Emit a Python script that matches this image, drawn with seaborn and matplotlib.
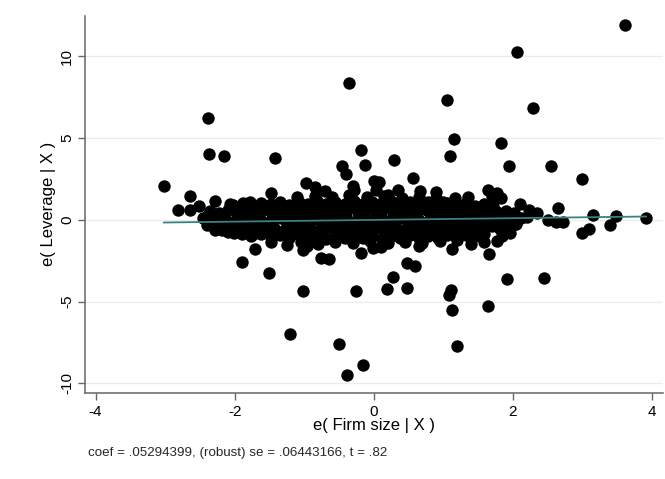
import matplotlib
matplotlib.use("Agg")
import matplotlib.pyplot as plt
import seaborn as sns
import pandas as pd

# added-variable plot: e(Leverage|X) vs e(Firm size|X)
coef = 0.05294399
note = "coef = .05294399, (robust) se = .06443166, t = .82"
x_label = "e( Firm size | X )"
y_label = "e( Leverage | X )"
x_ticks = [-4, -2, 0, 2, 4]
y_ticks = [-10, -5, 0, 5, 10]

# scattered points
outliers = [
    (3.62, 11.9), (2.06, 10.3), (-0.36, 8.37), (1.05, 7.32), (2.29, 6.87),
    (-2.38, 6.26), (1.15, 4.96), (1.83, 4.72), (-2.37, 4.02), (-2.15, 3.88),
    (-1.42, 3.77), (-0.18, 4.25), (1.09, 3.92), (0.29, 3.67), (-0.46, 3.28),
    (-0.40, 2.81), (-0.12, 3.34), (1.94, 3.30), (2.55, 3.28), (3.00, 2.52),
    (-3.02, 2.05), (0.56, 2.54), (2.65, 0.74), (3.15, 0.31), (3.49, 0.21),
    (3.92, 0.10), (3.10, -0.57), (2.99, -0.78), (3.40, -0.29), (2.50, 0.00),
    (2.62, -0.10), (2.72, -0.10), (-2.81, 0.62), (-2.64, 1.44), (-2.64, 0.62),
    (-2.51, 0.82), (-2.40, -0.31),
    (-1.71, -1.76), (-1.89, -2.60), (-1.50, -3.28), (-1.02, -4.35), (-1.21, -6.97),
    (-0.50, -7.61), (-0.15, -8.88), (-0.38, -9.52), (-0.25, -4.33), (-0.76, -2.32),
    (-0.64, -2.38), (-0.19, -2.01), (-0.01, -1.74), (0.19, -4.23), (0.28, -3.47),
    (0.48, -2.61), (0.60, -2.81), (0.48, -4.14), (1.11, -4.29), (1.08, -4.62),
    (1.13, -5.50), (1.20, -7.69), (1.65, -5.27), (1.66, -2.09), (1.91, -3.61),
    (2.45, -3.55), (1.78, -1.29), (1.58, -1.37), (1.13, -1.76), (1.96, -0.78),
    (-1.02, -1.85), (-0.96, -1.60), (-1.47, -1.33), (-2.01, -0.78), (-2.28, -0.62),
    (-1.47, 1.62), (-0.97, 2.28), (-0.84, 2.01), (0.00, 2.36), (0.08, 2.30),
    (0.04, 1.85), (1.64, 1.81), (1.77, 1.64), (1.83, 1.33), (1.70, 1.44),
    (2.10, 0.98), (2.23, 0.62), (2.35, 0.41), (1.00, 1.09), (0.66, 1.74),
    (1.17, 1.33), (-1.78, 1.11), (-2.07, 0.98), (-2.28, 1.13), (-0.29, 1.85),
    (0.21, 1.54), (-0.70, 1.75), (-0.30, 2.05), (0.35, 1.80), (0.90, 1.70),
    (1.35, 1.40), (-1.25, -1.55), (0.10, -1.65), (0.65, -1.60), (1.40, -1.50),
    (1.85, -1.00), (2.05, -0.25), (2.20, 0.20),
]

# dense band around zero
core_mid = [
    (-2.45, 0.12), (-2.33, -0.08), (-2.21, 0.05), (-2.08, -0.12), (-1.96, 0.10),
    (-1.84, -0.04), (-1.71, 0.08), (-1.59, -0.10), (-1.46, 0.03), (-1.34, 0.11),
    (-1.22, -0.06), (-1.09, 0.07), (-0.97, -0.09), (-0.85, 0.04), (-0.72, 0.12),
    (-0.60, -0.03), (-0.48, 0.09), (-0.35, -0.11), (-0.23, 0.06), (-0.11, -0.02),
    (0.02, 0.10), (0.14, -0.07), (0.27, 0.04), (0.39, 0.11), (0.51, -0.05),
    (0.64, 0.08), (0.76, -0.10), (0.88, 0.02), (1.01, 0.09), (1.13, -0.06),
    (1.25, 0.05), (1.38, -0.08), (1.50, 0.11), (1.62, -0.03), (1.75, 0.07),
    (1.87, -0.09), (1.99, 0.04), (2.12, 0.10),
    (-2.38, 0.30), (-2.15, 0.22), (-1.90, 0.32), (-1.65, 0.25), (-1.40, 0.34),
    (-1.15, 0.24), (-0.90, 0.30), (-0.65, 0.36), (-0.40, 0.26), (-0.15, 0.32),
    (0.10, 0.28), (0.35, 0.34), (0.60, 0.25), (0.85, 0.33), (1.10, 0.27),
    (1.35, 0.31), (1.60, 0.24), (1.85, 0.30), (2.05, 0.22),
    (-2.25, -0.28), (-2.00, -0.22), (-1.75, -0.32), (-1.50, -0.25), (-1.25, -0.34),
    (-1.00, -0.24), (-0.75, -0.30), (-0.50, -0.36), (-0.25, -0.26), (0.00, -0.32),
    (0.25, -0.28), (0.50, -0.34), (0.75, -0.25), (1.00, -0.33), (1.25, -0.27),
    (1.50, -0.31), (1.75, -0.24), (2.00, -0.30),
]
core_up = [
    (-2.35, 0.55), (-2.22, 0.42), (-2.10, 0.60), (-1.97, 0.48), (-1.85, 0.58),
    (-1.72, 0.40), (-1.60, 0.62), (-1.47, 0.50), (-1.35, 0.66), (-1.22, 0.45),
    (-1.10, 0.70), (-0.97, 0.52), (-0.85, 0.64), (-0.72, 0.47), (-0.60, 0.68),
    (-0.47, 0.55), (-0.35, 0.72), (-0.22, 0.50), (-0.10, 0.66), (0.03, 0.48),
    (0.15, 0.70), (0.28, 0.54), (0.40, 0.65), (0.53, 0.46), (0.65, 0.62),
    (0.78, 0.52), (0.90, 0.68), (1.03, 0.45), (1.15, 0.60), (1.28, 0.50),
    (1.40, 0.64), (1.53, 0.44), (1.65, 0.58), (1.78, 0.48), (1.90, 0.55),
    (2.02, 0.40),
    (-2.02, 0.92), (-1.88, 1.02), (-1.75, 0.88), (-1.62, 1.05), (-1.48, 0.95),
    (-1.35, 1.10), (-1.22, 0.90), (-1.08, 1.12), (-0.95, 0.98), (-0.82, 1.15),
    (-0.68, 0.95), (-0.55, 1.10), (-0.42, 1.00), (-0.28, 1.18), (-0.15, 0.96),
    (-0.02, 1.12), (0.12, 1.02), (0.25, 1.15), (0.38, 0.92), (0.52, 1.08),
    (0.65, 0.96), (0.78, 1.10), (0.92, 0.90), (1.05, 1.05), (1.18, 0.92),
    (1.32, 1.02), (1.45, 0.88), (1.58, 0.98), (1.72, 0.85),
    (-1.90, 0.75), (-1.55, 0.80), (-1.15, 0.78), (-0.75, 0.82), (-0.35, 0.76),
    (0.05, 0.84), (0.45, 0.78), (0.85, 0.80), (1.25, 0.76), (1.65, 0.74),
    (-1.10, 1.40), (-0.85, 1.45), (-0.60, 1.38), (-0.35, 1.50), (-0.10, 1.42),
    (0.15, 1.48), (0.40, 1.36), (0.65, 1.42), (0.90, 1.32),
]
core_down = [
    (-2.30, -0.45), (-2.18, -0.60), (-2.05, -0.40), (-1.93, -0.55), (-1.80, -0.62),
    (-1.68, -0.45), (-1.55, -0.58), (-1.43, -0.48), (-1.30, -0.66), (-1.18, -0.50),
    (-1.05, -0.62), (-0.93, -0.46), (-0.80, -0.70), (-0.68, -0.52), (-0.55, -0.64),
    (-0.43, -0.48), (-0.30, -0.68), (-0.18, -0.55), (-0.05, -0.62), (0.07, -0.47),
    (0.20, -0.66), (0.32, -0.52), (0.45, -0.60), (0.57, -0.45), (0.70, -0.64),
    (0.82, -0.50), (0.95, -0.62), (1.07, -0.48), (1.20, -0.60), (1.32, -0.45),
    (1.45, -0.58), (1.57, -0.50), (1.70, -0.40), (1.82, -0.55), (1.95, -0.42),
    (-1.90, -0.88), (-1.76, -0.98), (-1.62, -0.85), (-1.48, -1.02), (-1.35, -0.92),
    (-1.22, -1.08), (-1.08, -0.95), (-0.95, -1.12), (-0.82, -0.98), (-0.68, -1.15),
    (-0.55, -1.00), (-0.42, -1.12), (-0.28, -0.96), (-0.15, -1.10), (-0.02, -0.98),
    (0.12, -1.14), (0.25, -1.00), (0.38, -1.10), (0.52, -0.95), (0.65, -1.12),
    (0.78, -0.98), (0.92, -1.08), (1.05, -0.92), (1.18, -1.05), (1.32, -0.90),
    (1.45, -1.00), (1.58, -0.86),
    (-2.10, -0.72), (-1.70, -0.78), (-1.30, -0.80), (-0.90, -0.76), (-0.50, -0.82),
    (-0.10, -0.78), (0.30, -0.80), (0.70, -0.76), (1.10, -0.82), (1.50, -0.74),
    (1.85, -0.70),
    (-1.05, -1.38), (-0.80, -1.45), (-0.55, -1.35), (-0.30, -1.42), (-0.05, -1.30),
    (0.20, -1.40), (0.45, -1.35), (0.70, -1.42), (0.95, -1.30), (1.20, -1.25),
]

df = pd.DataFrame(outliers + core_mid + core_up + core_down, columns=["xr", "yr"])

sns.set_theme(style="white")
plt.rcParams["font.family"] = ["Liberation Sans", "DejaVu Sans"]

fig = plt.figure(figsize=(6.65, 4.79), dpi=100)
ax = fig.add_axes([0.128, 0.18, 0.869, 0.787])

sns.scatterplot(data=df, x="xr", y="yr", color="black", s=80, linewidth=0, ax=ax, zorder=3)

# fitted line through the residuals (mean zero, slope = coef)
fit = pd.DataFrame({"xr": [df["xr"].min(), df["xr"].max()]})
fit["yr"] = coef * fit["xr"]
sns.lineplot(data=fit, x="xr", y="yr", color="#3b8083", linewidth=1.3, ax=ax, zorder=4)

ax.set_xlim(-4.15, 4.16)
ax.set_ylim(-10.58, 12.49)
ax.set_xticks(x_ticks)
ax.set_yticks(y_ticks)
ax.set_xticklabels([str(t) for t in x_ticks])
ax.set_yticklabels([str(t) for t in y_ticks])

ax.grid(axis="y", color="#ececec", linewidth=1.0)
ax.grid(axis="x", visible=False)
ax.set_axisbelow(True)

for side in ["top", "right"]:
    ax.spines[side].set_visible(False)
for side in ["left", "bottom"]:
    ax.spines[side].set_color("#666666")
    ax.spines[side].set_linewidth(1.1)

ax.tick_params(axis="both", direction="out", length=5, width=1, color="#666666",
               labelsize=11, labelcolor="black", bottom=True, left=True)
ax.tick_params(axis="x", pad=3.5)
ax.tick_params(axis="y", pad=3, labelrotation=90)
for lab in ax.get_yticklabels():
    lab.set_va("center")

ax.set_xlabel(x_label, fontsize=12, color="black")
ax.set_ylabel(y_label, fontsize=12, color="black")
ax.xaxis.set_label_coords(0.5, -0.068)
ax.yaxis.set_label_coords(-0.05, 0.5)

fig.text(88 / 665, 1 - 453 / 479, note, fontsize=9.6, va="center", ha="left")

plt.savefig("out.png", dpi=100)
plt.close()
